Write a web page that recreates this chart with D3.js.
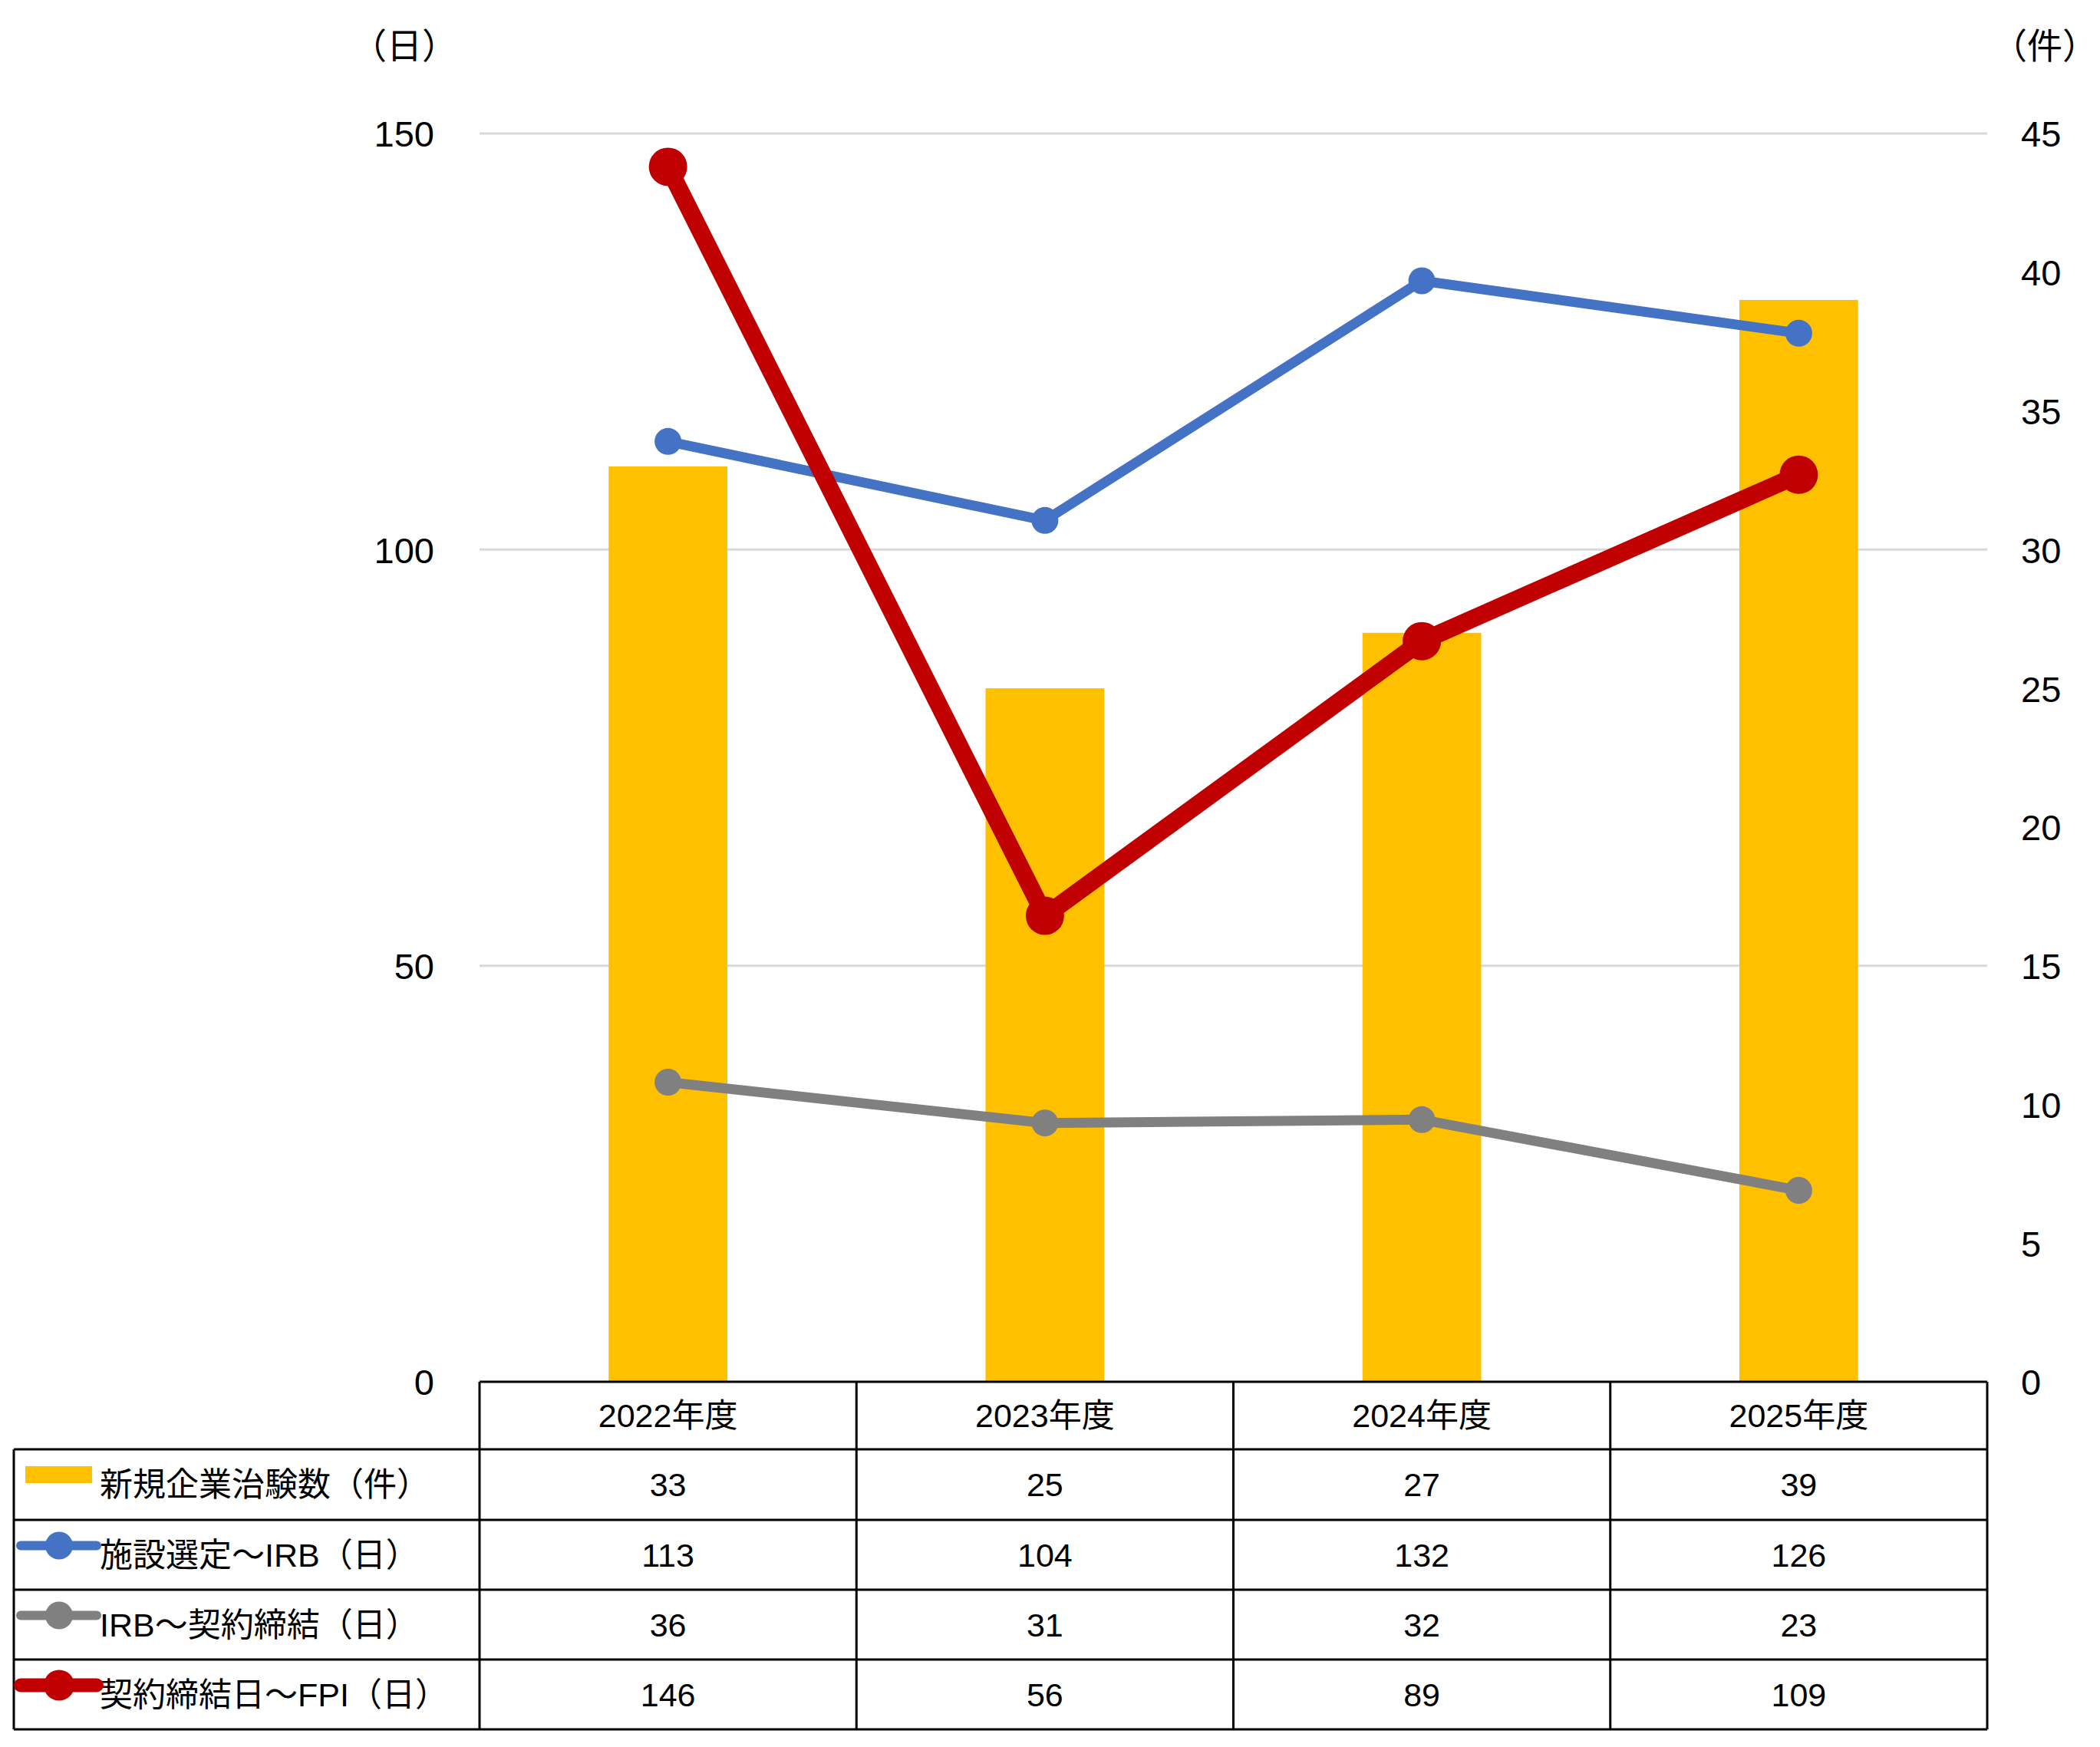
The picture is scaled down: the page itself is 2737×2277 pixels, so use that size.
<!DOCTYPE html>
<html><head><meta charset="utf-8">
<script src="https://cdn.jsdelivr.net/npm/d3@7/dist/d3.min.js"></script>
<style>body{margin:0;background:#fff}svg{display:block}</style>
</head><body>
<script>
const years = ["2022年度","2023年度","2024年度","2025年度"];
const trials = [33,25,27,39];
const siteToIRB = [113,103.5,132.3,126];
const irbToContract = [36,31.1,31.5,23];
const contractToFPI = [146,56,89,109];
const leftTicks = [0,50,100,150];
const rightTicks = [0,5,10,15,20,25,30,35,40,45];
const seriesNames = ["新規企業治験数（件）","施設選定～IRB（日）","IRB～契約締結（日）","契約締結日～FPI（日）"];

const W=2737,H=2277;
const FONT='"Liberation Sans", Arial, "Noto Sans CJK JP", sans-serif';
const svg=d3.select("body").append("svg").attr("width",W).attr("height",H);

const x=d3.scaleBand().domain(years).range([625,2590]).padding(0);
const yL=d3.scaleLinear().domain([0,150]).range([1801,174]);
const yR=d3.scaleLinear().domain([0,45]).range([1801,174]);
const cx=d=>x(d)+x.bandwidth()/2;

// gridlines
svg.append("g").selectAll("line").data(leftTicks.filter(t=>t>0)).join("line")
  .attr("x1",625).attr("x2",2590).attr("y1",d=>yL(d)).attr("y2",d=>yL(d))
  .attr("stroke","#D9D9D9").attr("stroke-width",3);

// left axis
const la=d3.axisLeft(yL).tickValues(leftTicks).tickSize(0).tickPadding(0);
const gL=svg.append("g").attr("transform","translate(566,0)").call(la);
gL.select(".domain").remove();
gL.selectAll("text").attr("font-size",47).attr("font-family",FONT).attr("fill","#000").attr("dy","0.36em");
// right axis
const ra=d3.axisRight(yR).tickValues(rightTicks).tickSize(0).tickPadding(0);
const gR=svg.append("g").attr("transform","translate(2634,0)").call(ra);
gR.select(".domain").remove();
gR.selectAll("text").attr("font-size",47).attr("font-family",FONT).attr("fill","#000").attr("dy","0.36em");

svg.append("text").attr("x",527).attr("y",60).attr("text-anchor","middle").attr("dominant-baseline","central")
  .attr("font-size",46).attr("font-family",FONT).text("（日）");
svg.append("text").attr("x",2665).attr("y",60).attr("text-anchor","middle").attr("dominant-baseline","central")
  .attr("font-size",46).attr("font-family",FONT).text("（件）");

// bars
const bw=x.bandwidth()*0.315;
svg.append("g").selectAll("rect").data(trials).join("rect")
  .attr("x",(d,i)=>cx(years[i])-bw/2).attr("width",bw)
  .attr("y",d=>yR(d)).attr("height",d=>yR(0)-yR(d)).attr("fill","#FFC000");

// lines
const lineSeries=[
  {v:siteToIRB,c:"#4472C4",w:13,r:17.5},
  {v:irbToContract,c:"#808080",w:13,r:17.5},
  {v:contractToFPI,c:"#C00000",w:23,r:25}
];
const line=d3.line().x((d,i)=>cx(years[i])).y(d=>yL(d));
lineSeries.forEach(s=>{
  svg.append("path").datum(s.v).attr("d",line).attr("fill","none")
    .attr("stroke",s.c).attr("stroke-width",s.w).attr("stroke-linejoin","round");
  svg.append("g").selectAll("circle").data(s.v).join("circle")
    .attr("cx",(d,i)=>cx(years[i])).attr("cy",d=>yL(d)).attr("r",s.r).attr("fill",s.c);
});

// data table
const rowLines=[1801,1889,1981,2072,2163,2254];
const tg=svg.append("g").attr("stroke","#000").attr("stroke-width",3);
tg.append("line").attr("x1",625).attr("x2",2590).attr("y1",1801).attr("y2",1801);
rowLines.slice(1).forEach(y=>tg.append("line").attr("x1",18).attr("x2",2590).attr("y1",y).attr("y2",y));
tg.append("line").attr("x1",18).attr("x2",18).attr("y1",1889).attr("y2",2254);
[...years.map(d=>x(d)),2590].forEach(xx=>tg.append("line").attr("x1",xx).attr("x2",xx).attr("y1",1801).attr("y2",2254));

const rowCenter=i=>(rowLines[i]+rowLines[i+1])/2;
svg.append("g").selectAll("text").data(years).join("text")
  .attr("x",d=>cx(d)).attr("y",rowCenter(0)).attr("text-anchor","middle").attr("dominant-baseline","central")
  .attr("font-size",43).attr("font-family",FONT).text(d=>d);
const tableRows=[trials,siteToIRB,irbToContract,contractToFPI];
tableRows.forEach((vals,ri)=>{
  svg.append("g").selectAll("text").data(vals).join("text")
    .attr("x",(d,i)=>cx(years[i])).attr("y",rowCenter(ri+1)).attr("text-anchor","middle").attr("dominant-baseline","central")
    .attr("font-size",43).attr("font-family",FONT).text(d=>Math.round(d));
  svg.append("text").attr("x",130).attr("y",rowCenter(ri+1)).attr("dominant-baseline","central")
    .attr("font-size",43).attr("font-family",FONT).text(seriesNames[ri]);
});
// legend keys
svg.append("rect").attr("x",33).attr("y",rowCenter(1)-24).attr("width",87).attr("height",22).attr("fill","#FFC000");
const keys=[{c:"#4472C4",w:12,r:18},{c:"#808080",w:12,r:18},{c:"#C00000",w:18,r:20}];
keys.forEach((k,i)=>{
  const y=rowCenter(i+2)-12;
  svg.append("line").attr("x1",27).attr("x2",126).attr("y1",y).attr("y2",y).attr("stroke",k.c).attr("stroke-width",k.w).attr("stroke-linecap","round");
  svg.append("circle").attr("cx",77).attr("cy",y).attr("r",k.r).attr("fill",k.c);
});
</script>
</body></html>
